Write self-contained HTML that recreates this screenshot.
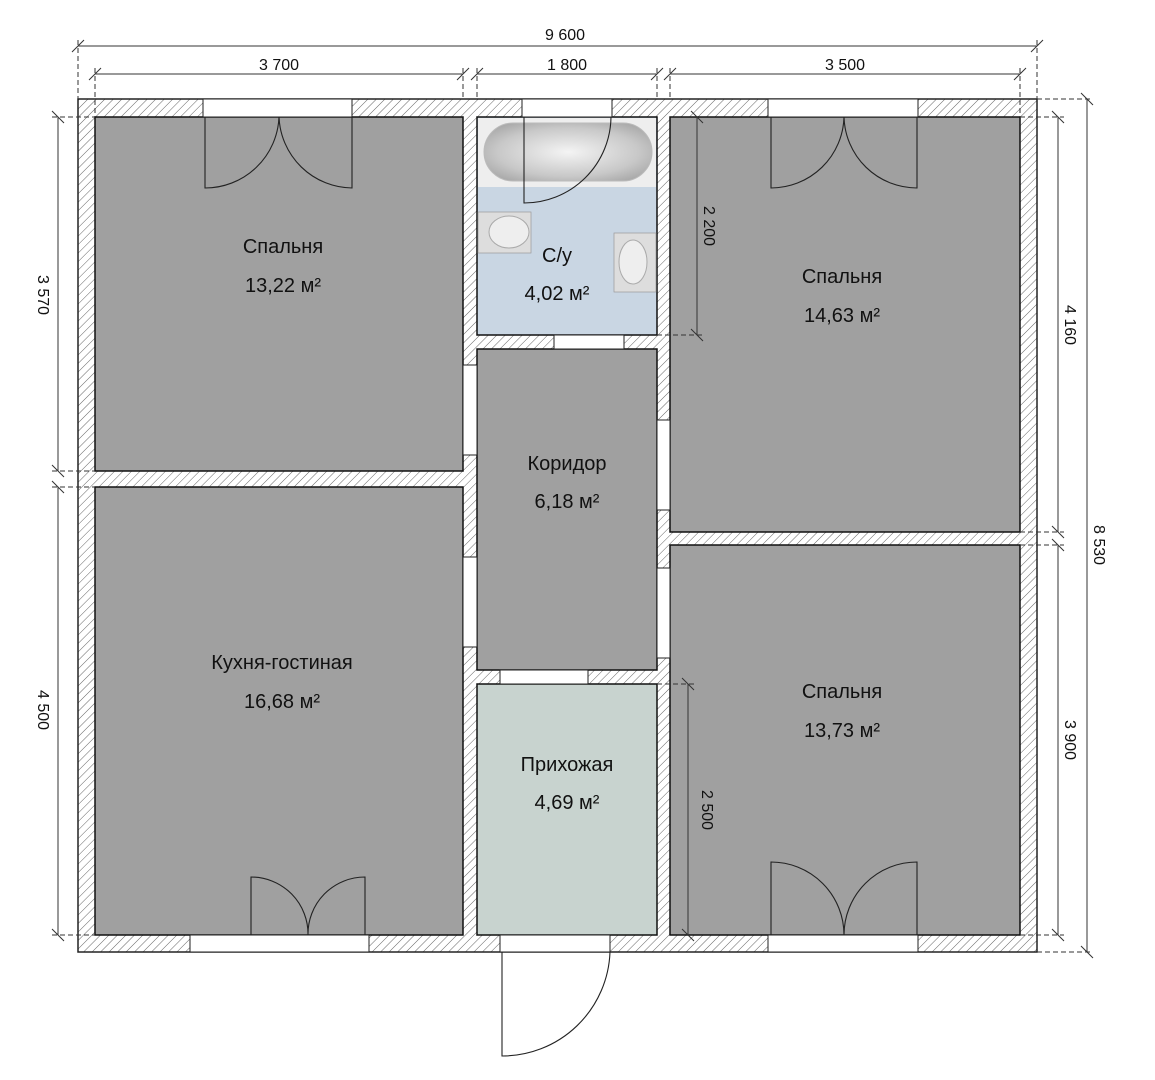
<!DOCTYPE html>
<html><head><meta charset="utf-8"><style>body{margin:0;background:#fff}svg{display:block}text{font-family:"Liberation Sans","DejaVu Sans",sans-serif;fill:#111}</style></head>
<body>
<svg width="1155" height="1080" viewBox="0 0 1155 1080" xmlns="http://www.w3.org/2000/svg">
<defs>
<pattern id="h" width="6" height="6" patternUnits="userSpaceOnUse" patternTransform="rotate(45)">
<rect width="6" height="6" fill="#fff"/><line x1="0" y1="0" x2="0" y2="6" stroke="#666" stroke-width="1"/>
</pattern>
<radialGradient id="tub" cx="50%" cy="50%" r="60%"><stop offset="0" stop-color="#f4f4f4"/><stop offset="0.7" stop-color="#c8c8c8"/><stop offset="1" stop-color="#aaa"/></radialGradient>
</defs>
<!-- walls -->
<rect x="78" y="99" width="959" height="853" fill="url(#h)" stroke="#222" stroke-width="1.5"/>
<!-- rooms -->
<g stroke="#111" stroke-width="1.5">
<rect x="95" y="117" width="368" height="354" fill="#a0a0a0"/>
<rect x="95" y="487" width="368" height="448" fill="#a0a0a0"/>
<rect x="477" y="117" width="180" height="218" fill="#c9d6e3"/>
<rect x="477" y="349" width="180" height="321" fill="#a0a0a0"/>
<rect x="477" y="684" width="180" height="251" fill="#c8d3cf"/>
<rect x="670" y="117" width="350" height="415" fill="#a0a0a0"/>
<rect x="670" y="545" width="350" height="390" fill="#a0a0a0"/>
</g>
<!-- bathroom fixtures -->
<rect x="478" y="118" width="178" height="69" fill="#eeeeee"/>
<rect x="484" y="123" width="168" height="58" rx="29" fill="url(#tub)" stroke="#bbb"/>
<rect x="478" y="212" width="53" height="41" fill="#ddd" stroke="#999" stroke-width="0.7"/>
<ellipse cx="509" cy="232" rx="20" ry="16" fill="#eee" stroke="#aaa"/>
<rect x="614" y="233" width="42" height="59" fill="#ddd" stroke="#999" stroke-width="0.7"/>
<ellipse cx="633" cy="262" rx="14" ry="22" fill="#eee" stroke="#aaa"/>
<!-- openings -->
<g fill="#fff" stroke="#222" stroke-width="1">
<rect x="203" y="99" width="149" height="18"/>
<rect x="522" y="99" width="90" height="18"/>
<rect x="768" y="99" width="150" height="18"/>
<rect x="190" y="935" width="179" height="17"/>
<rect x="500" y="935" width="110" height="17"/>
<rect x="768" y="935" width="150" height="17"/>
<rect x="554" y="335" width="70" height="14"/>
<rect x="500" y="670" width="88" height="14"/>
<rect x="463" y="365" width="14" height="90"/>
<rect x="463" y="557" width="14" height="90"/>
<rect x="657" y="420" width="13" height="90"/>
<rect x="657" y="568" width="13" height="90"/>
</g>
<!-- doors -->
<g fill="none" stroke="#222" stroke-width="1.1">
<path d="M205 117V188A74 74 0 0 0 279 117A74 74 0 0 0 352 188V117"/>
<path d="M771 117V188A73 73 0 0 0 844 117A73 73 0 0 0 917 188V117"/>
<path d="M771 935V862A73 73 0 0 1 844 935A73 73 0 0 1 917 862V935"/>
<path d="M251 935V877A57 57 0 0 1 308 935A57 57 0 0 1 365 877V935"/>
<path d="M524 117V203A87 87 0 0 0 611 117"/>
<path d="M502 952V1056A108 108 0 0 0 610 952"/>
</g>
<!-- dimension lines -->
<g stroke="#333" stroke-width="1" fill="none">
<line x1="78" y1="46" x2="1037" y2="46"/>
<line x1="95" y1="74" x2="463" y2="74"/><line x1="477" y1="74" x2="657" y2="74"/><line x1="670" y1="74" x2="1020" y2="74"/>
<line x1="58" y1="117" x2="58" y2="471"/><line x1="58" y1="487" x2="58" y2="935"/>
<line x1="1058" y1="117" x2="1058" y2="532"/><line x1="1058" y1="545" x2="1058" y2="935"/>
<line x1="1087" y1="99" x2="1087" y2="952"/>
<line x1="697" y1="117" x2="697" y2="335"/>
<line x1="688" y1="684" x2="688" y2="935"/>
<g stroke-dasharray="5,3">
<line x1="78" y1="40" x2="78" y2="99"/><line x1="1037" y1="40" x2="1037" y2="99"/>
<line x1="95" y1="68" x2="95" y2="117"/><line x1="463" y1="68" x2="463" y2="99"/><line x1="477" y1="68" x2="477" y2="99"/><line x1="657" y1="68" x2="657" y2="99"/><line x1="670" y1="68" x2="670" y2="99"/><line x1="1020" y1="68" x2="1020" y2="117"/>
<line x1="52" y1="117" x2="95" y2="117"/><line x1="52" y1="471" x2="95" y2="471"/><line x1="52" y1="487" x2="95" y2="487"/><line x1="52" y1="935" x2="95" y2="935"/>
<line x1="1020" y1="117" x2="1064" y2="117"/><line x1="1020" y1="532" x2="1064" y2="532"/><line x1="1020" y1="545" x2="1064" y2="545"/><line x1="1020" y1="935" x2="1064" y2="935"/>
<line x1="1037" y1="99" x2="1093" y2="99"/><line x1="1037" y1="952" x2="1093" y2="952"/>
<line x1="657" y1="335" x2="703" y2="335"/><line x1="657" y1="684" x2="694" y2="684"/>
</g>
<g stroke-width="1">
<path d="M72 52l12-12M1031 52l12-12M89 80l12-12M457 80l12-12M471 80l12-12M651 80l12-12M664 80l12-12M1014 80l12-12"/>
<path d="M52 111l12 12M52 465l12 12M52 481l12 12M52 929l12 12M1052 111l12 12M1052 526l12 12M1052 539l12 12M1052 929l12 12M1081 93l12 12M1081 946l12 12M691 111l12 12M691 329l12 12M682 678l12 12M682 929l12 12"/>
</g>
</g>
<!-- dimension text -->
<g font-size="16" text-anchor="middle">
<text x="565" y="40">9 600</text>
<text x="279" y="70">3 700</text>
<text x="567" y="70">1 800</text>
<text x="845" y="70">3 500</text>
<text transform="translate(38,295) rotate(90)">3 570</text>
<text transform="translate(38,710) rotate(90)">4 500</text>
<text transform="translate(1065,325) rotate(90)">4 160</text>
<text transform="translate(1065,740) rotate(90)">3 900</text>
<text transform="translate(1094,545) rotate(90)">8 530</text>
<text transform="translate(704,226) rotate(90)">2 200</text>
<text transform="translate(702,810) rotate(90)">2 500</text>
</g>
<!-- room labels -->
<g font-size="20" text-anchor="middle">
<text x="283" y="253">Спальня</text><text x="283" y="292">13,22 м²</text>
<text x="557" y="262">С/у</text><text x="557" y="300">4,02 м²</text>
<text x="567" y="470">Коридор</text><text x="567" y="508">6,18 м²</text>
<text x="842" y="283">Спальня</text><text x="842" y="322">14,63 м²</text>
<text x="282" y="669">Кухня-гостиная</text><text x="282" y="708">16,68 м²</text>
<text x="567" y="771">Прихожая</text><text x="567" y="809">4,69 м²</text>
<text x="842" y="698">Спальня</text><text x="842" y="737">13,73 м²</text>
</g>
</svg>
</body></html>
